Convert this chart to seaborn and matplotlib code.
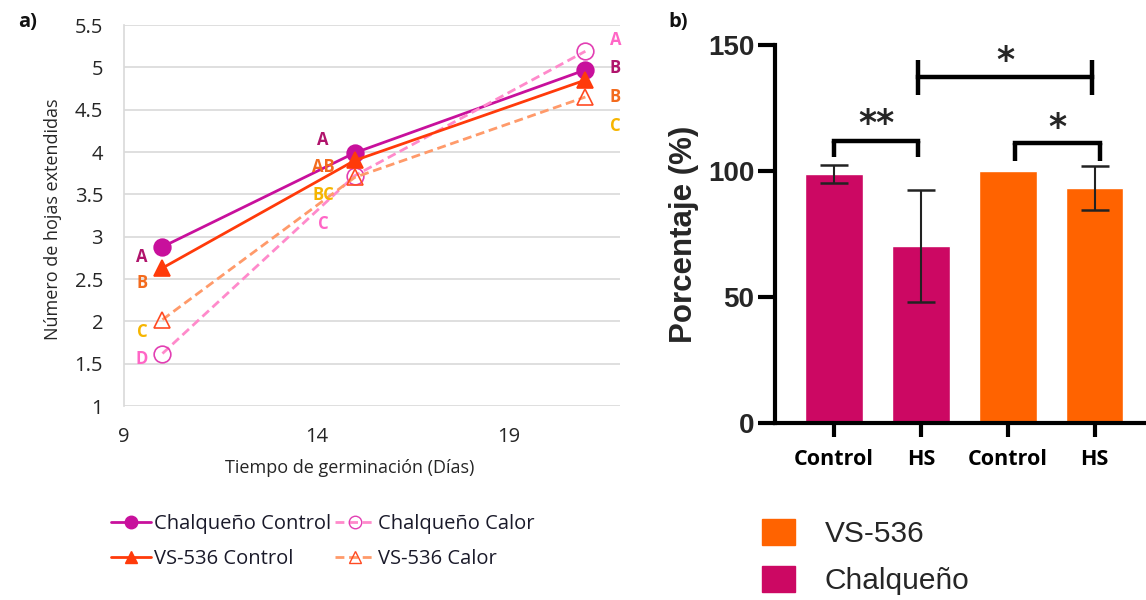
import matplotlib
matplotlib.use("Agg")
import matplotlib.pyplot as plt
import seaborn as sns
import numpy as np
import pandas as pd
from matplotlib.lines import Line2D
from matplotlib.patches import Patch

# ---------------- data: panel a ----------------
days = [10, 15, 21]
chal_control = [2.88, 3.99, 4.97]
chal_calor = [1.62, 3.72, 5.19]
vs_control = [2.63, 3.90, 4.85]
vs_calor = [2.02, 3.70, 4.65]
series_names = ["Chalqueño Control", "Chalqueño Calor", "VS-536 Control", "VS-536 Calor"]

letters_d10 = ["A", "B", "C", "D"]
letters_d10_y = [2.76, 2.45, 1.88, 1.55]
letters_d15 = ["A", "AB", "BC", "C"]
letters_d15_y = [4.14, 3.82, 3.49, 3.15]
letters_d21 = ["A", "B", "B", "C"]
letters_d21_y = [5.32, 4.99, 4.65, 4.31]
letters_x = [9.47, 14.18, 21.78]

y_ticks_a = [1, 1.5, 2, 2.5, 3, 3.5, 4, 4.5, 5, 5.5]
x_ticks_a = [9, 14, 19]

# ---------------- data: panel b ----------------
bar_keys = ["Chalqueño Control", "Chalqueño HS", "VS-536 Control", "VS-536 HS"]
bar_labels = ["Control", "HS", "Control", "HS"]
bar_values = [98.7, 70.2, 100.0, 93.2]
bar_err = [3.6, 22.2, 0.0, 8.7]
bar_group = ["Chalqueño", "Chalqueño", "VS-536", "VS-536"]
y_ticks_b = [0, 50, 100, 150]

# ---------------- styling ----------------
C_CHAL = "#c8109c"
C_CHAL_CALOR = "#ff8acb"
C_CHAL_CALOR_MK = "#e23fb3"
C_VS = "#ff3a0a"
C_VS_CALOR = "#ff9a6a"
C_VS_CALOR_MK = "#ff4a22"
L_CHAL = "#b0146c"
L_VS = "#f36b1e"
L_VSC = "#f6b500"
L_CHC = "#ff66c6"

BAR_CHAL = "#cc0863"
BAR_VS = "#ff6300"
DASH = (0, (3.2, 1.7))

sns.set_theme(style="white")
plt.rcParams["font.family"] = ["Open Sans", "DejaVu Sans"]

fig = plt.figure(figsize=(11.46, 6.0), dpi=100)

# ================= panel a =================
axa = fig.add_axes([0.1082, 0.3233, 0.4328, 0.635])
styles = [
    (chal_control, C_CHAL, "-", "o", C_CHAL, C_CHAL, 12),
    (chal_calor, C_CHAL_CALOR, DASH, "o", "none", C_CHAL_CALOR_MK, 12),
    (vs_control, C_VS, "-", "^", C_VS, C_VS, 12),
    (vs_calor, C_VS_CALOR, DASH, "^", "none", C_VS_CALOR_MK, 12),
]
for name, (vals, col, ls, mk, mfc, mec, ms) in zip(series_names, styles):
    df = pd.DataFrame({"x": days, "y": vals})
    sns.lineplot(data=df, x="x", y="y", ax=axa, color=col, linestyle=ls,
                 linewidth=2.0, marker=mk, markersize=ms, markerfacecolor=mfc,
                 markeredgecolor=mec, markeredgewidth=1.2, zorder=3)

axa.set_xlim(9, 21.9)
axa.set_ylim(1, 5.5)
axa.set_yticks(y_ticks_a)
axa.set_yticklabels([f"{v:g}" for v in y_ticks_a])
axa.set_xticks(x_ticks_a)
axa.yaxis.grid(True, color="#d9d9d9", linewidth=1.2)
axa.xaxis.grid(False)
for s in ["top", "right", "bottom"]:
    axa.spines[s].set_visible(False)
axa.spines["left"].set_color("#d9d9d9")
axa.spines["left"].set_linewidth(1.2)
axa.tick_params(axis="both", length=0, labelsize=14.5, colors="#262626")
axa.tick_params(axis="y", pad=15)
axa.tick_params(axis="x", pad=15)
axa.set_xlabel("Tiempo de germinación (Días)", fontsize=13, color="#262626")
axa.set_ylabel("Número de hojas extendidas", fontsize=13, color="#262626")
axa.xaxis.set_label_coords(0.456, -0.14)
axa.yaxis.set_label_coords(-0.124, 0.49)

col_d10 = [L_CHAL, L_VS, L_VSC, L_CHC]
col_d15 = [L_CHAL, L_VS, L_VSC, L_CHC]
col_d21 = [L_CHC, L_CHAL, L_VS, L_VSC]
for xl, labs, ys, cols in zip(letters_x,
                              [letters_d10, letters_d15, letters_d21],
                              [letters_d10_y, letters_d15_y, letters_d21_y],
                              [col_d10, col_d15, col_d21]):
    for lab, yv, c in zip(labs, ys, cols):
        axa.text(xl, yv, lab, color=c, fontsize=12, fontweight="bold",
                 ha="center", va="center", clip_on=False, zorder=4)

fig.text(0.016, 0.963, "a)", fontsize=14.5, fontweight="bold", color="#111111",
         ha="left", va="center")

h_cc = Line2D([], [], color=C_CHAL, linestyle="-", lw=2, marker="o", ms=9,
              mfc=C_CHAL, mec=C_CHAL)
h_ch = Line2D([], [], color=C_CHAL_CALOR, linestyle=DASH, lw=2, marker="o", ms=9,
              mfc="none", mec=C_CHAL_CALOR_MK)
h_vc = Line2D([], [], color=C_VS, linestyle="-", lw=2, marker="^", ms=9,
              mfc=C_VS, mec=C_VS)
h_vh = Line2D([], [], color=C_VS_CALOR, linestyle=DASH, lw=2, marker="^", ms=9,
              mfc="none", mec=C_VS_CALOR_MK)
leg_a = fig.legend([h_cc, h_vc, h_ch, h_vh],
                   [series_names[0], series_names[2], series_names[1], series_names[3]],
                   loc="upper left", bbox_to_anchor=(0.097, 0.143), ncol=2,
                   frameon=False, fontsize=14.5, handlelength=2.0, handletextpad=0.15,
                   columnspacing=0.15, labelspacing=0.75, borderaxespad=0,
                   borderpad=0)
for t in leg_a.get_texts():
    t.set_color("#1a1a2a")

# ================= panel b =================
axb = fig.add_axes([0.6763, 0.295, 0.3237, 0.630])
dfb = pd.DataFrame({"key": bar_keys, "value": bar_values, "group": bar_group})
sns.barplot(data=dfb, x="key", y="value", hue="group", order=bar_keys,
            palette={"Chalqueño": BAR_CHAL, "VS-536": BAR_VS}, dodge=False,
            width=0.66, ax=axb, legend=False, saturation=1, errorbar=None,
            zorder=2)
xpos = np.arange(len(bar_keys))
for xi, v, e in zip(xpos, bar_values, bar_err):
    if e > 0:
        axb.errorbar(xi, v, yerr=e, color="#222222", capsize=10, elinewidth=1.5,
                     capthick=1.8, zorder=3)

axb.set_xlim(-0.68, 3.59)
axb.set_ylim(0, 150)
axb.set_yticks(y_ticks_b)
axb.set_xticks(xpos)
axb.set_xticklabels(bar_labels)
axb.set_xlabel("")
axb.set_ylabel("Porcentaje (%)", fontsize=22.5, fontweight="bold",
               family=["Liberation Sans", "DejaVu Sans"], labelpad=6)
for s in ["top", "right"]:
    axb.spines[s].set_visible(False)
for s in ["left", "bottom"]:
    axb.spines[s].set_color("black")
    axb.spines[s].set_linewidth(3.0)
axb.tick_params(axis="y", length=12, width=3, color="black", direction="out",
                labelsize=20, pad=3, left=True)
axb.tick_params(axis="x", length=10, width=3, color="black", direction="out",
                labelsize=15.5, pad=9, bottom=True)
for t in axb.get_yticklabels():
    t.set_fontweight("bold")
    t.set_family(["Liberation Sans", "DejaVu Sans"])
for t in axb.get_xticklabels():
    t.set_fontweight("bold")
    t.set_color("black")

# significance brackets
def bracket(x1, x2, y, ytop, text, ty, ibeam=False):
    lw = 3.2
    axb.plot([x1, x2], [y, y], color="black", lw=lw, solid_capstyle="projecting", clip_on=False)
    if ibeam:
        axb.plot([x1, x1], [ytop[0], ytop[1]], color="black", lw=lw, solid_capstyle="butt", clip_on=False)
        axb.plot([x2, x2], [ytop[0], ytop[1]], color="black", lw=lw, solid_capstyle="butt", clip_on=False)
    else:
        axb.plot([x1, x1], [ytop, y], color="black", lw=lw, solid_capstyle="butt", clip_on=False)
        axb.plot([x2, x2], [ytop, y], color="black", lw=lw, solid_capstyle="butt", clip_on=False)
    axb.text((x1 + x2) / 2, ty, text, ha="center", va="center", fontsize=25,
             fontweight="bold", family=["DejaVu Sans"], clip_on=False)

bracket(0.0, 0.97, 112, 105.5, "**", 118.5)
bracket(0.97, 2.97, 137.5, (130, 144), "*", 143.5, ibeam=True)
bracket(2.08, 3.06, 111, 104, "*", 117)

fig.text(0.583, 0.963, "b)", fontsize=14.5, fontweight="bold", color="#111111",
         ha="left", va="center")

handles_b = [Patch(facecolor=BAR_VS, edgecolor=BAR_VS),
             Patch(facecolor=BAR_CHAL, edgecolor=BAR_CHAL)]
fig.legend(handles_b, ["VS-536", "Chalqueño"], loc="upper left",
           bbox_to_anchor=(0.665, 0.135), frameon=False,
           prop={"family": ["Liberation Sans", "DejaVu Sans"], "size": 21.5},
           handlelength=1.1, handleheight=0.95, handletextpad=1.0,
           labelspacing=0.6, borderaxespad=0, borderpad=0)

fig.savefig("out.png", dpi=100)
